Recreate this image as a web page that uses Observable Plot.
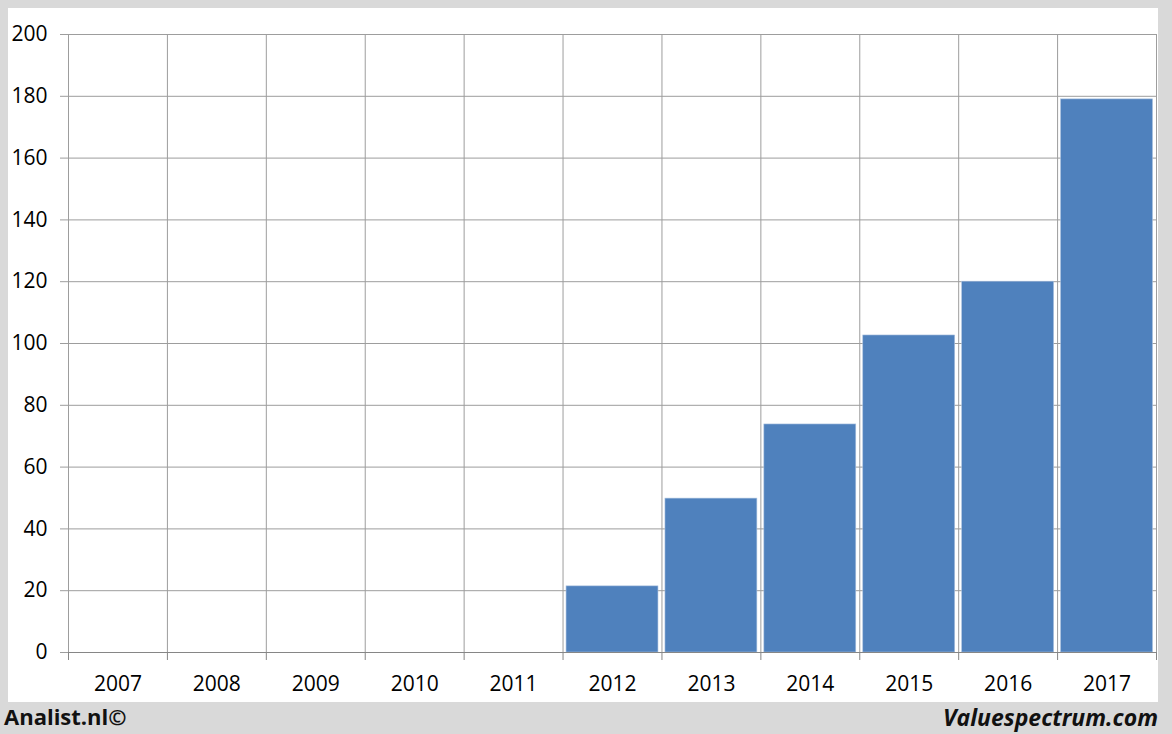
<!DOCTYPE html>
<html>
<head>
<meta charset="utf-8">
<script src="https://cdn.jsdelivr.net/npm/d3@7"></script>
<script src="https://cdn.jsdelivr.net/npm/@observablehq/plot@0.6"></script>
<style>
  html, body { margin: 0; padding: 0; }
  body { width: 1172px; height: 734px; background: #d9d9d9; position: relative; overflow: hidden; font-family: "Open Sans", sans-serif; }
  #frame { position: absolute; left: 8px; top: 8px; width: 1150px; height: 694px; background: #fff; }
  #left { position: absolute; left: 4px; top: 701px; font-size: 22px; font-weight: bold; color: #111; }
  #right { position: absolute; right: 14px; top: 701px; font-size: 23px; font-weight: bold; font-style: italic; color: #111; }
  svg text { font-size: 21px; }
</style>
</head>
<body>
<div id="frame"></div>
<div id="left">Analist.nl©</div>
<div id="right">Valuespectrum.com</div>
<script>
const years = [2007, 2008, 2009, 2010, 2011, 2012, 2013, 2014, 2015, 2016, 2017];
const values = [0, 0, 0, 0, 0, 21.4, 49.8, 73.8, 102.6, 120, 179];
const yTicks = [0, 20, 40, 60, 80, 100, 120, 140, 160, 180, 200];

const data = years.map((year, i) => ({ year, value: values[i] }));
const edges = [...years.map(y => y - 0.5), years[years.length - 1] + 0.5];

const chart = Plot.plot({
  width: 1150,
  height: 694,
  marginLeft: 60,
  marginRight: 2,
  marginTop: 26,
  marginBottom: 50,
  style: { fontFamily: "Open Sans, sans-serif", fontSize: "21px", color: "#000", background: "#fff" },
  x: { type: "linear", domain: [edges[0], edges[edges.length - 1]] },
  y: { domain: [0, 200] },
  marks: [
    Plot.gridY(yTicks, { stroke: "#9d9d9d", strokeOpacity: 1, strokeWidth: 1 }),
    Plot.gridX(edges, { stroke: "#9d9d9d", strokeOpacity: 1, strokeWidth: 1 }),
    Plot.axisY(yTicks, { tickSize: 8, tickPadding: 13, stroke: "#9d9d9d", fill: "#000", label: null, fontSize: 21 }),
    Plot.axisX(edges, { tickSize: 8, tickFormat: () => "", stroke: "#868686", label: null }),
    Plot.axisX(years, { tickSize: 0, tickPadding: 24, tickFormat: d => String(d), fill: "#000", label: null, fontSize: 21 }),
    Plot.rectY(data.filter(d => d.value > 0), {
      x1: d => d.year - 0.5, x2: d => d.year + 0.5, y: "value",
      insetLeft: 3.5, insetRight: 3.5,
      fill: "#4f81bd", stroke: "#a9c0de", strokeWidth: 0.6
    }),
    Plot.ruleY([0], { stroke: "#868686", strokeWidth: 1 })
  ]
});
document.getElementById("frame").appendChild(chart);
</script>
</body>
</html>
